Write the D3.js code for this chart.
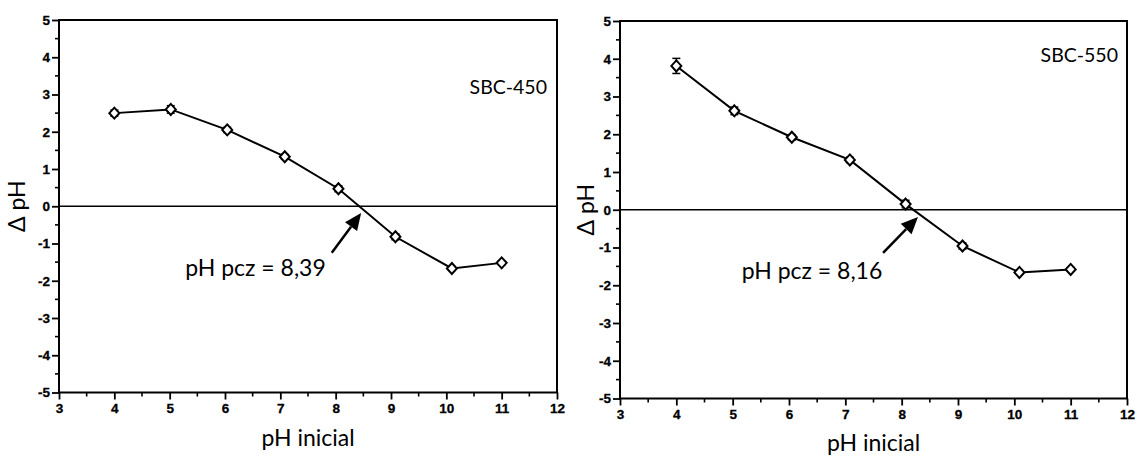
<!DOCTYPE html>
<html>
<head>
<meta charset="utf-8">
<script src="https://cdn.jsdelivr.net/npm/d3@7"></script>
<style>
  body { margin: 0; background: #fff; }
  .axis-title, .note, .tag { font-family: Lato, "Open Sans", sans-serif; fill: #000; }
</style>
</head>
<body>
<div id="chart"></div>
<script>
const width = 1137,
  height = 457;

// values
const phLeft = [4.0, 5.02, 6.04, 7.08, 8.05, 9.08, 10.1, 11.0];
const deltaLeft = [2.5, 2.6, 2.05, 1.33, 0.47, -0.82, -1.67, -1.52];
const errLeft = [0.08, 0.1, 0.07, 0.06, 0.08, 0.08, 0.05, 0.05];

const phRight = [4.0, 5.03, 6.05, 7.08, 8.07, 9.08, 10.09, 11.0];
const deltaRight = [3.81, 2.62, 1.92, 1.32, 0.15, -0.96, -1.66, -1.58];
const errRight = [0.2, 0.1, 0.07, 0.07, 0.1, 0.08, 0.05, 0.05];

const xTicks = [3, 4, 5, 6, 7, 8, 9, 10, 11, 12];
const yTicks = [-5, -4, -3, -2, -1, 0, 1, 2, 3, 4, 5];
const sampleNames = ["SBC-450", "SBC-550"];
const pczLabels = ["pH pcz = 8,39", "pH pcz = 8,16"];

const svg = d3.select("#chart")
  .append("svg")
  .attr("width", width)
  .attr("height", height)
  .style("background", "#fff");

function drawPanel(p) {
  const x = d3.scaleLinear().domain([3, 12]).range([p.left, p.right]);
  const y = d3.scaleLinear().domain([-5, 5]).range([p.bottom, p.top]);
  const g = svg.append("g");
  const data = p.xs.map((d, i) => ({ x: d, y: p.ys[i], e: p.es[i] }));

  // minor ticks
  const xMinor = d3.range(3.5, 12, 1);
  const yMinor = d3.range(-4.5, 5, 1);
  g.selectAll(".xminor").data(xMinor).join("line")
    .attr("x1", d => x(d)).attr("x2", d => x(d))
    .attr("y1", p.bottom).attr("y2", p.bottom + 4)
    .attr("stroke", "#000").attr("stroke-width", 1.6);
  g.selectAll(".yminor").data(yMinor).join("line")
    .attr("y1", d => y(d)).attr("y2", d => y(d))
    .attr("x1", p.left - 4).attr("x2", p.left)
    .attr("stroke", "#000").attr("stroke-width", 1.6);

  // major ticks and labels (plain hyphen minus like the original)
  const xAxis = d3.axisBottom(x).tickValues(xTicks).tickSize(7).tickPadding(4).tickFormat(d => String(d));
  const yAxis = d3.axisLeft(y).tickValues(yTicks).tickSize(7).tickPadding(2).tickFormat(d => String(d));
  const gx = g.append("g").attr("transform", `translate(0,${p.bottom})`).call(xAxis);
  const gy = g.append("g").attr("transform", `translate(${p.left},0)`).call(yAxis);
  [gx, gy].forEach(a => {
    a.select(".domain").remove();
    a.selectAll(".tick line").attr("stroke", "#000").attr("stroke-width", 1.8);
    a.selectAll(".tick text")
      .attr("fill", "#000")
      .attr("stroke", "#000")
      .attr("stroke-width", 0.3)
      .style("font-family", "'Liberation Sans', Arial, sans-serif")
      .style("font-size", "13.5px")
      .style("font-weight", "bold");
  });

  // frame
  g.append("rect")
    .attr("x", p.left).attr("y", p.top)
    .attr("width", p.right - p.left).attr("height", p.bottom - p.top)
    .attr("fill", "none").attr("stroke", "#000").attr("stroke-width", 2);

  // zero line
  g.append("line")
    .attr("x1", p.left).attr("x2", p.right)
    .attr("y1", y(0)).attr("y2", y(0))
    .attr("stroke", "#000").attr("stroke-width", 1.5);

  // series line
  g.append("path")
    .datum(data)
    .attr("fill", "none").attr("stroke", "#000").attr("stroke-width", 2)
    .attr("d", d3.line().x(d => x(d.x)).y(d => y(d.y)));

  // error bars
  const eb = g.selectAll(".err").data(data).join("g");
  eb.append("line")
    .attr("x1", d => x(d.x)).attr("x2", d => x(d.x))
    .attr("y1", d => y(d.y - d.e)).attr("y2", d => y(d.y + d.e))
    .attr("stroke", "#000").attr("stroke-width", 1.5);
  [-1, 1].forEach(s => {
    eb.append("line")
      .attr("x1", d => x(d.x) - 4).attr("x2", d => x(d.x) + 4)
      .attr("y1", d => y(d.y + s * d.e)).attr("y2", d => y(d.y + s * d.e))
      .attr("stroke", "#000").attr("stroke-width", 1.5);
  });

  // diamonds
  g.selectAll(".pt").data(data).join("path")
    .attr("d", "M0,-5.5L5,0L0,5.5L-5,0Z")
    .attr("transform", d => `translate(${x(d.x)},${y(d.y)})`)
    .attr("fill", "#fff").attr("stroke", "#000").attr("stroke-width", 2);

  // arrow to the zero crossing
  const tail = [x(p.arrow[0]), y(p.arrow[1])];
  const tip = [x(p.arrow[2]), y(p.arrow[3])];
  const ang = Math.atan2(tip[1] - tail[1], tip[0] - tail[0]);
  const headLen = 17, headW = 7.5;
  const bx = tip[0] - headLen * Math.cos(ang), by = tip[1] - headLen * Math.sin(ang);
  g.append("line")
    .attr("x1", tail[0]).attr("y1", tail[1]).attr("x2", bx).attr("y2", by)
    .attr("stroke", "#000").attr("stroke-width", 2.5);
  g.append("path")
    .attr("d", `M${tip[0]},${tip[1]}L${bx + headW * Math.sin(ang)},${by - headW * Math.cos(ang)}L${bx - headW * Math.sin(ang)},${by + headW * Math.cos(ang)}Z`)
    .attr("fill", "#000");

  g.append("text").attr("class", "note")
    .attr("x", x(p.note[0])).attr("y", y(p.note[1]))
    .attr("font-size", 23)
    .text(p.noteText);

  g.append("text").attr("class", "tag")
    .attr("x", p.tagPos[0]).attr("y", p.tagPos[1])
    .attr("text-anchor", "end")
    .attr("font-size", 19.5)
    .text(p.name);

  // axis titles
  g.append("text").attr("class", "axis-title")
    .attr("x", (p.left + p.right) / 2).attr("y", p.xTitleY)
    .attr("text-anchor", "middle").attr("font-size", 23)
    .text("pH inicial");
  g.append("text").attr("class", "axis-title")
    .attr("transform", `translate(${p.yTitleX},${y(0)}) rotate(-90)`)
    .attr("text-anchor", "middle").attr("font-size", 23)
    .text("Δ pH");
}

drawPanel({
  left: 59, right: 557, top: 20, bottom: 392.5,
  xs: phLeft, ys: deltaLeft, es: errLeft,
  arrow: [7.93, -1.25, 8.46, -0.18],
  note: [5.28, -1.86], noteText: pczLabels[0],
  name: sampleNames[0], tagPos: [547, 94],
  xTitleY: 446, yTitleX: 25
});

drawPanel({
  left: 620, right: 1127, top: 21, bottom: 398.5,
  xs: phRight, ys: deltaRight, es: errRight,
  arrow: [7.67, -1.14, 8.29, -0.19],
  note: [5.16, -1.84], noteText: pczLabels[1],
  name: sampleNames[1], tagPos: [1118, 62],
  xTitleY: 451, yTitleX: 594
});
</script>
</body>
</html>
